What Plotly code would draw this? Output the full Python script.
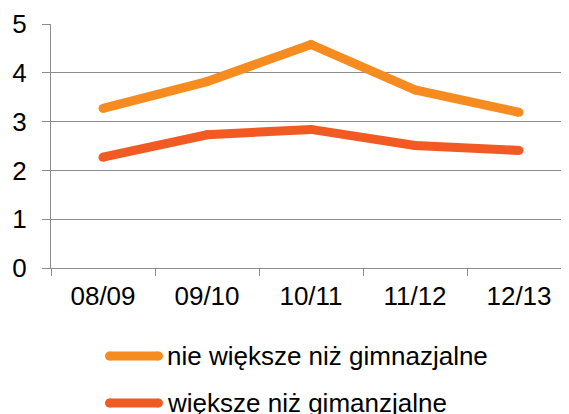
import plotly.graph_objects as go

categories = ["08/09", "09/10", "10/11", "11/12", "12/13"]
series_names = ["nie większe niż gimnazjalne", "większe niż gimanzjalne"]
values_nie = [3.27, 3.82, 4.58, 3.65, 3.19]
values_wieksze = [2.27, 2.73, 2.84, 2.51, 2.41]
colors = ["#F68B1F", "#F15A22"]
y_ticks = [0, 1, 2, 3, 4, 5]

# the page body has an 8px margin, so the figure is drawn 8px smaller and offset
OFF = 8
W, H = 569 - OFF, 414 - OFF
L, R, T = 51 - OFF, 0, 24 - OFF
B = H - (268 - OFF)
pw, ph = W - L - R, H - T - B

fig = go.Figure()
for name, vals, col in zip(series_names, [values_nie, values_wieksze], colors):
    fig.add_trace(go.Scatter(
        x=categories, y=vals, name=name, mode="lines+markers",
        line=dict(color=col, width=9), marker=dict(color=col, size=9, line=dict(width=0)),
        hoverinfo="skip", showlegend=False))

FONT = "Liberation Sans, Arial, sans-serif"
grid = "#8C8C8C"

def px_x(x):
    return (x - OFF - L) / pw

def px_y(y):
    return (H - B - (y - OFF)) / ph

shapes = []
annotations = []
rows = [356, 403]
for name, col, yc in zip(series_names, colors, rows):
    x0, x1 = 109.5, 158.5
    shapes.append(dict(type="line", xref="paper", yref="paper",
                       x0=px_x(x0), x1=px_x(x1), y0=px_y(yc), y1=px_y(yc),
                       line=dict(color=col, width=9)))
    for xe in (x0, x1):
        shapes.append(dict(type="circle", xref="paper", yref="paper",
                           xsizemode="pixel", ysizemode="pixel",
                           xanchor=px_x(xe), yanchor=px_y(yc),
                           x0=-4.5, x1=4.5, y0=-4.5, y1=4.5,
                           fillcolor=col, line=dict(width=0)))
    annotations.append(dict(text=name, xref="paper", yref="paper",
                            x=px_x(165), y=px_y(yc), xanchor="left", yanchor="middle",
                            showarrow=False, font=dict(family=FONT, size=26, color="black")))

fig.update_layout(
    width=W, height=H,
    margin=dict(l=L, r=R, t=T, b=B, pad=0),
    paper_bgcolor="white", plot_bgcolor="white",
    font=dict(family=FONT, size=26, color="black"),
    shapes=shapes, annotations=annotations,
    xaxis=dict(
        type="category", categoryorder="array", categoryarray=categories,
        range=[-0.5, -0.5 + pw / 104.0],
        tickson="boundaries", ticks="outside", ticklen=7, tickcolor=grid, tickwidth=1.3,
        showgrid=False, zeroline=False, showline=True, linecolor=grid, linewidth=1.3,
        tickfont=dict(family=FONT, size=26, color="black"),
        ticklabelstandoff=5, fixedrange=True,
    ),
    yaxis=dict(
        range=[0, 5], tickmode="array", tickvals=y_ticks,
        ticks="outside", ticklen=8, tickcolor=grid, tickwidth=1.3,
        showgrid=True, gridcolor=grid, gridwidth=1.3, zeroline=False,
        showline=True, linecolor=grid, linewidth=1.3,
        tickfont=dict(family=FONT, size=26, color="black"),
        ticklabelstandoff=10, fixedrange=True,
    ),
)

fig.write_html("out.html")
